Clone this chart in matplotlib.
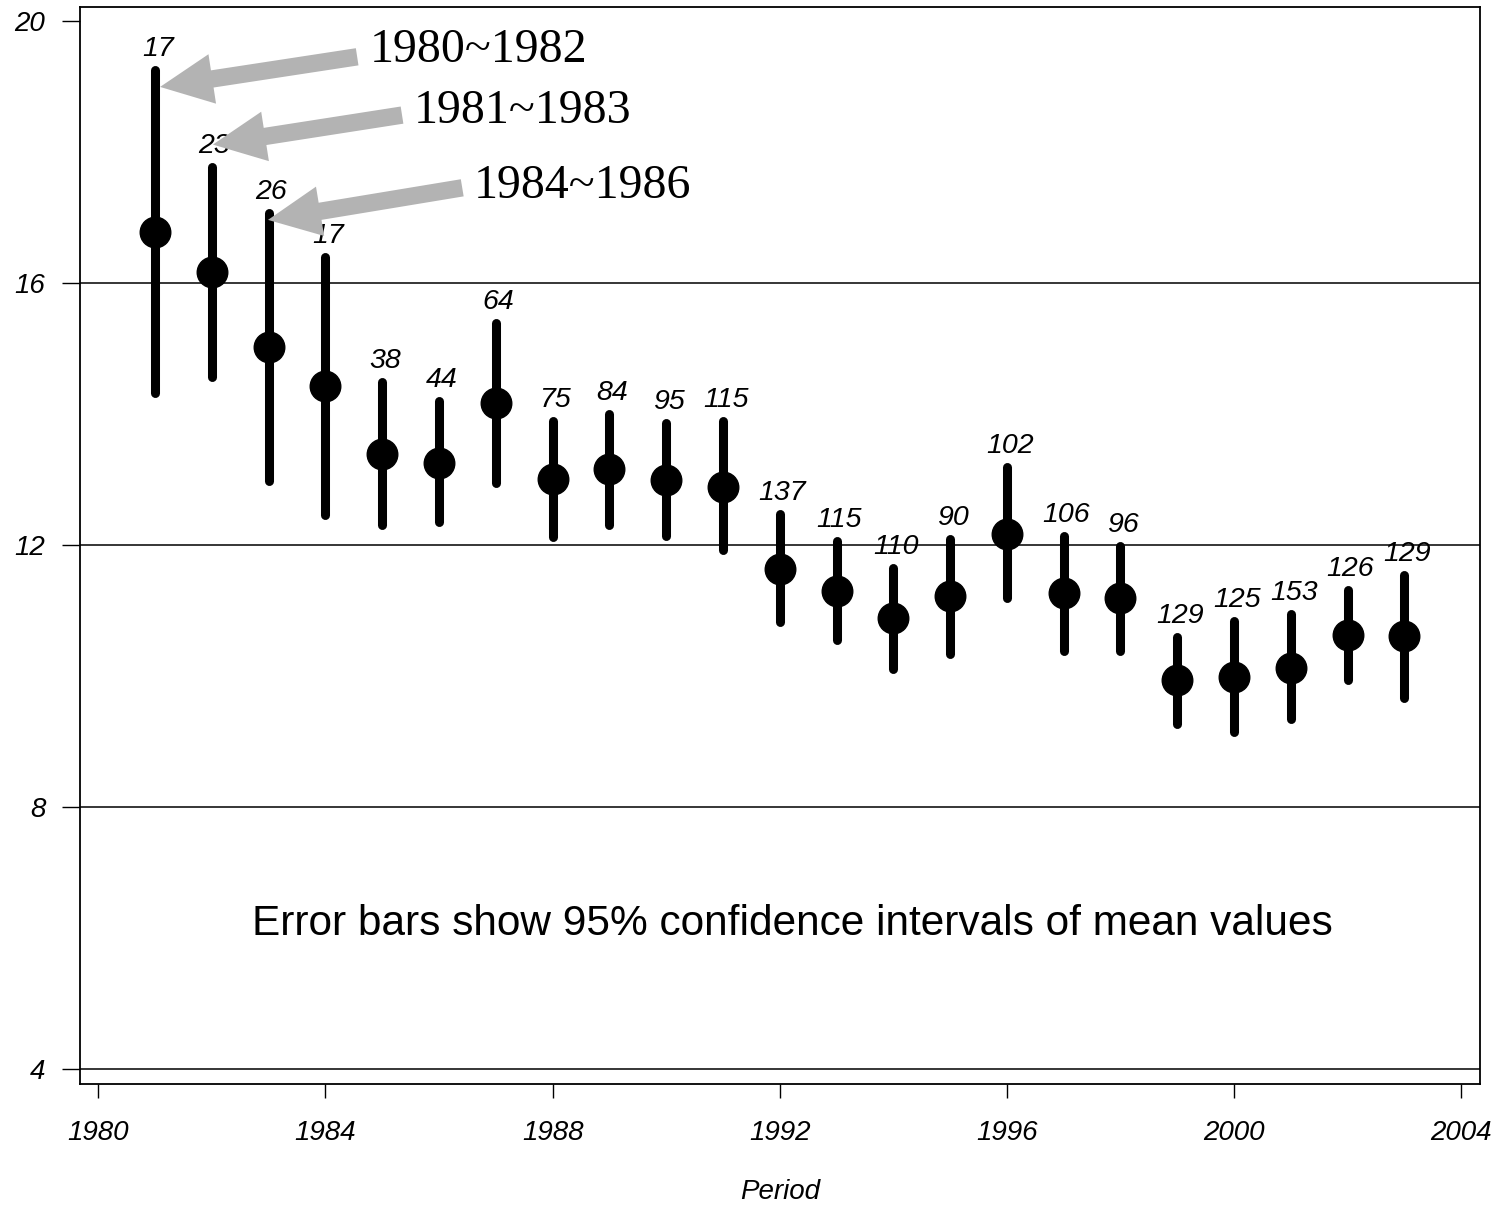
import numpy as np
import matplotlib
matplotlib.use("Agg")
import matplotlib.pyplot as plt

# mean value per period with 95% CI bounds, and sample size per period
years = list(range(1981, 2004))
means = [16.78, 16.17, 15.02, 14.43, 13.39, 13.25, 14.17, 13.01, 13.16, 12.99, 12.89, 11.63,
         11.30, 10.89, 11.22, 12.17, 11.27, 11.19, 9.94, 9.98, 10.12, 10.63, 10.61]
upper = [19.25, 17.77, 17.07, 16.40, 14.49, 14.20, 15.39, 13.89, 14.00, 13.86, 13.89, 12.47,
         12.06, 11.65, 12.09, 13.19, 12.14, 11.98, 10.60, 10.84, 10.95, 11.31, 11.54]
lower = [14.32, 14.56, 12.98, 12.46, 12.31, 12.35, 12.95, 12.12, 12.31, 12.14, 11.92, 10.82,
         10.55, 10.11, 10.34, 11.19, 10.38, 10.38, 9.27, 9.15, 9.34, 9.94, 9.66]
counts = [17, 23, 26, 17, 38, 44, 64, 75, 84, 95, 115, 137, 115, 110, 90, 102, 106, 96,
          129, 125, 153, 126, 129]

xticks = [1980, 1984, 1988, 1992, 1996, 2000, 2004]
yticks = [4, 8, 12, 16, 20]

callouts = ["1980~1982", "1981~1983", "1984~1986"]

sans = ["Liberation Sans", "DejaVu Sans"]
serif = ["Liberation Serif", "DejaVu Serif"]

fig = plt.figure(figsize=(14.99, 12.06), dpi=100)
ax = fig.add_axes([80 / 1499, 1 - 1084 / 1206, 1400 / 1499, 1077 / 1206])

ax.set_xlim(1979.68, 2004.33)
ax.set_ylim(3.77, 20.21)

# horizontal reference lines
for y in [4, 8, 12, 16]:
    ax.axhline(y, color="black", lw=1.1, zorder=1)

# CI bars and means
ax.vlines(years, lower, upper, color="black", lw=6.5, capstyle="round", zorder=3)
ax.plot(years, means, "o", color="black", ms=22, zorder=4)

# sample size above each bar
for x, hi, n in zip(years, upper, counts):
    ax.annotate(str(n), (x, hi), xytext=(2, 15), textcoords="offset points",
                ha="center", va="center", fontsize=20.5, style="italic", family=sans, zorder=5)

# callout arrows for the first periods
arrows = [((1984.56, 19.45), (1981.09, 18.99)),
          ((1985.35, 18.56), (1982.02, 18.11)),
          ((1986.41, 17.45), (1982.99, 16.96))]
text_pos = [(1984.79, 19.56), (1985.56, 18.63), (1986.62, 17.47)]
for (tail, tip), (tx, ty), lab in zip(arrows, text_pos, callouts):
    ax.annotate("", xy=tip, xytext=tail,
                arrowprops=dict(facecolor="#b3b3b3", edgecolor="none", width=12.5,
                                headwidth=36, headlength=38, shrink=0),
                zorder=6)
    ax.text(tx, ty, lab, ha="left", va="center", fontsize=34.5, family=serif, zorder=6)

ax.text(1992.23, 6.21, "Error bars show 95% confidence intervals of mean values",
        ha="center", va="center", fontsize=30.5, family=sans)

for s in ax.spines.values():
    s.set_linewidth(1.3)

ax.set_xticks(xticks)
ax.set_yticks(yticks)
ax.tick_params(axis="x", length=10, width=1, pad=16, labelsize=20)
ax.tick_params(axis="y", length=13, width=1, pad=12, labelsize=20)
for lbl in ax.get_xticklabels() + ax.get_yticklabels():
    lbl.set_fontstyle("italic")
    lbl.set_family(sans)

ax.set_xlabel("Period", fontsize=20, style="italic", family=sans, labelpad=24)

fig.savefig("out.png", dpi=100)
